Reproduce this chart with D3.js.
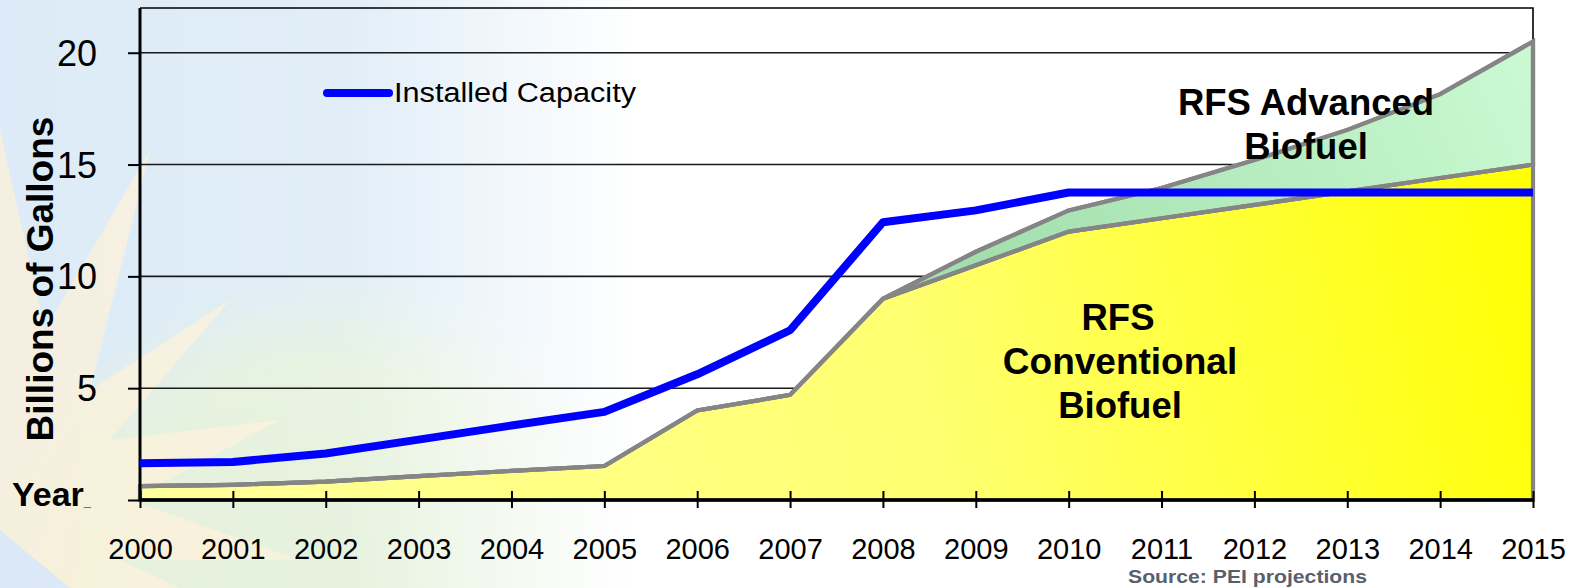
<!DOCTYPE html>
<html><head><meta charset="utf-8">
<script src="https://cdn.jsdelivr.net/npm/d3@7"></script>
<style>html,body{margin:0;padding:0;background:#fff;overflow:hidden}</style>
</head><body>
<svg id="chart" width="1577" height="588"></svg>
<script>
const years = [2000,2001,2002,2003,2004,2005,2006,2007,2008,2009,2010,2011,2012,2013,2014,2015];
const installedCapacity = [1.64,1.7,2.08,2.7,3.33,3.94,5.62,7.59,12.42,12.95,13.75,13.75,13.75,13.75,13.75,13.75];
const rfsConventional = [0.62,0.68,0.82,1.07,1.3,1.52,4.0,4.7,9.0,10.5,12.0,12.6,13.2,13.8,14.4,15.0];
const rfsAdvanced = [0,0,0,0,0,0,0,0,0,0.6,0.95,1.35,2.0,2.75,3.75,5.5];
const yTickValues = [0,5,10,15,20];
const yTickLabels = ["","5","10","15","20"];
const legendLabel = "Installed Capacity";
const yTitle = "Billions of Gallons";
const xTitle = "Year";
const sourceNote = "Source: PEI projections";

const svg = d3.select("#chart");
const W = 1577, H = 588;
const x = d3.scaleLinear().domain([2000,2015]).range([140,1533]);
const y = d3.scaleLinear().domain([0,22]).range([500,8]);
const FONT = "Arial, 'Liberation Sans', Helvetica, sans-serif";

const defs = svg.append("defs");
const fade = defs.append("linearGradient").attr("id","fadeG").attr("gradientUnits","userSpaceOnUse")
  .attr("x1",0).attr("x2",640).attr("y1",0).attr("y2",0);
fade.append("stop").attr("offset","0").attr("stop-color","#fff").attr("stop-opacity",1);
fade.append("stop").attr("offset","0.55").attr("stop-color","#fff").attr("stop-opacity",0.85);
fade.append("stop").attr("offset","1").attr("stop-color","#fff").attr("stop-opacity",0);
const mask = defs.append("mask").attr("id","bgMask");
mask.append("rect").attr("width",W).attr("height",H).attr("fill","url(#fadeG)");

const greenR = defs.append("radialGradient").attr("id","greenR");
greenR.append("stop").attr("offset","0").attr("stop-color","#e2f0d8");
greenR.append("stop").attr("offset","0.7").attr("stop-color","#e4f1dc");
greenR.append("stop").attr("offset","1").attr("stop-color","#e4f1dc").attr("stop-opacity",0);

const yellowG = defs.append("linearGradient").attr("id","yellowG").attr("gradientUnits","userSpaceOnUse")
  .attr("x1",140).attr("y1",500).attr("x2",1533).attr("y2",150);
yellowG.append("stop").attr("offset","0").attr("stop-color","#ffff9c");
yellowG.append("stop").attr("offset","0.55").attr("stop-color","#ffff70");
yellowG.append("stop").attr("offset","1").attr("stop-color","#ffff00");
const greenG = defs.append("linearGradient").attr("id","greenG").attr("gradientUnits","userSpaceOnUse")
  .attr("x1",1000).attr("y1",300).attr("x2",1533).attr("y2",40);
greenG.append("stop").attr("offset","0").attr("stop-color","#a3dfae");
greenG.append("stop").attr("offset","1").attr("stop-color","#cbfad2");

// background decoration
svg.append("rect").attr("width",W).attr("height",H).attr("fill","#fff");
const bg = svg.append("g").attr("mask","url(#bgMask)");
bg.append("rect").attr("width",700).attr("height",H).attr("fill","#dcebf7");
bg.append("ellipse").attr("cx",330).attr("cy",600).attr("rx",360).attr("ry",330).attr("fill","url(#greenR)");
const sun = [[-40,600],[0,130],[45,330],[150,150],[90,390],[230,300],[110,440],[280,420],[130,500],[300,560],[120,560],[180,588],[70,588]];
bg.append("path").attr("d", d3.line()(sun)+"Z").attr("fill","#fcf0d8").attr("opacity",0.75);
bg.append("path").attr("d","M0,300 L0,560 L60,588 L0,588 Z").attr("fill","#fcefd6").attr("opacity",0.8);
bg.append("path").attr("d","M0,530 L70,588 L0,588 Z").attr("fill","#dbe8f6");

// plot frame (top & right)
svg.append("path").attr("d",`M${x(2000)},${y(22)} H${x(2015)} V${y(0)}`)
  .attr("fill","none").attr("stroke","#000").attr("stroke-width",1.6);

// gridlines
svg.append("g").selectAll("line").data(yTickValues.filter(v=>v>0)).join("line")
  .attr("x1",x(2000)).attr("x2",x(2015)).attr("y1",d=>y(d)).attr("y2",d=>y(d))
  .attr("stroke","#1a1a1a").attr("stroke-width",1.6);

// stacked areas
const table = years.map((yr,i)=>({year:yr, conventional:rfsConventional[i], advanced:rfsAdvanced[i]}));
const stack = d3.stack().keys(["conventional","advanced"])(table);
const area = d3.area().x(d=>x(d.data.year)).y0(d=>y(d[0])).y1(d=>y(d[1]));
const fills = {conventional:"url(#yellowG)", advanced:"url(#greenG)"};
svg.append("g").selectAll("path").data(stack).join("path")
  .attr("d",area).attr("fill",d=>fills[d.key])
  .attr("stroke","#858585").attr("stroke-width",4.2).attr("stroke-linejoin","miter");
svg.append("path").datum(stack[1]).attr("d",area).attr("fill","none")
  .attr("stroke","#858585").attr("stroke-width",4.2);

// axes
const yAxis = d3.axisLeft(y).tickValues(yTickValues).tickSize(12).tickFormat((d,i)=>yTickLabels[i]);
const gy = svg.append("g").attr("transform",`translate(${x(2000)},0)`).call(yAxis);
gy.select(".domain").attr("stroke","#000").attr("stroke-width",3).attr("d",`M0,${y(22)}V${y(0)}`);
gy.selectAll(".tick line").attr("stroke","#000").attr("stroke-width",2);
gy.selectAll(".tick text").attr("x",-43).attr("dy","0.35em").attr("font-family",FONT).attr("font-size",36).attr("fill","#000");

const xAxis = d3.axisBottom(x).tickValues(years).tickFormat(d3.format("d")).tickSize(8);
const gx = svg.append("g").attr("transform",`translate(0,${y(0)})`).call(xAxis);
gx.select(".domain").attr("stroke","#000").attr("stroke-width",3.5).attr("d",`M${x(2000)},0H${x(2015)}`);
gx.selectAll(".tick line").attr("stroke","#000").attr("stroke-width",2).attr("y1",-9).attr("y2",8);
gx.selectAll(".tick text").attr("y",59).attr("dy",0).attr("font-family",FONT).attr("font-size",29).attr("fill","#000");

// installed capacity line
svg.append("path").datum(years.map((yr,i)=>[yr,installedCapacity[i]]))
  .attr("d",d3.line().x(d=>x(d[0])).y(d=>y(d[1])))
  .attr("fill","none").attr("stroke","#0000ff").attr("stroke-width",8).attr("stroke-linejoin","round");

// legend
svg.append("line").attr("x1",327).attr("x2",389).attr("y1",93).attr("y2",93)
  .attr("stroke","#0000ff").attr("stroke-width",8).attr("stroke-linecap","round");
svg.append("text").attr("x",394).attr("y",102).attr("font-family",FONT).attr("font-size",27)
  .attr("textLength",242).attr("lengthAdjust","spacingAndGlyphs").attr("fill","#000").text(legendLabel);

// y title
svg.append("text").attr("transform",`translate(53,279) rotate(-90)`).attr("text-anchor","middle")
  .attr("font-family",FONT).attr("font-weight","bold").attr("font-size",37).attr("fill","#000").text(yTitle);
// x title
const yt = svg.append("text").attr("x",12).attr("y",506).attr("font-family",FONT).attr("font-weight","bold")
  .attr("font-size",34).attr("fill","#000");
yt.append("tspan").text(xTitle);
yt.append("tspan").attr("font-size",13).text("_");

// area labels
const bold = (t,cx,cy,fs)=>svg.append("text").attr("x",cx).attr("y",cy).attr("text-anchor","middle")
  .attr("font-family",FONT).attr("font-weight","bold").attr("font-size",fs).attr("fill","#000").text(t);
bold("RFS Advanced",1306,115,36.5);
bold("Biofuel",1306,159,36.5);
bold("RFS",1118,330,36.5);
bold("Conventional",1120,374,37);
bold("Biofuel",1120,418,36.5);

// source
svg.append("text").attr("x",1128).attr("y",583).attr("font-family",FONT).attr("font-weight","bold")
  .attr("font-size",18).attr("textLength",239).attr("lengthAdjust","spacingAndGlyphs")
  .attr("fill","#5a5f6e").text(sourceNote);
</script>
</body></html>
